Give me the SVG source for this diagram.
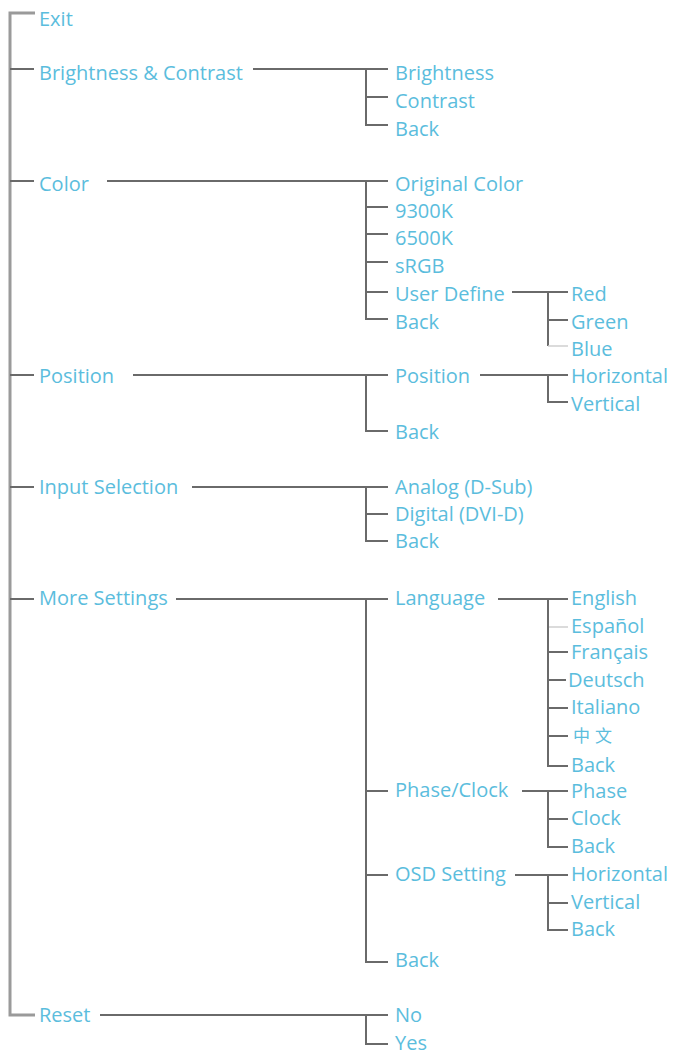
<svg xmlns="http://www.w3.org/2000/svg" width="675" height="1055" viewBox="0 0 675 1055">
<style>
text{font-family:"Open Sans","Liberation Sans",sans-serif;font-size:20px;fill:#5bbddd}
.m{stroke:#9a9a9a;stroke-width:3;fill:none}
.c{stroke:#6a6a6a;stroke-width:2;fill:none}
.f{stroke:#cfcfcf;stroke-width:1.5;fill:none}
</style>
<rect width="675" height="1055" fill="#fff"/>
<g id="connectors">
<path class="m" d="M35 13H10V1015H35"/>
<path class="c" d="M10 69H34M10 181H34M10 375H34M10 487H34M10 599H34"/>
<path class="c" d="M253 69H388M366 69V125H388M366 97H388"/>
<path class="c" d="M107 181H388M366 181V319H388M366 207H388M366 234H388M366 262H388M366 292H388"/>
<path class="c" d="M133 375H388M366 375V431H388"/>
<path class="c" d="M192 487H388M366 487V541H388M366 514H388"/>
<path class="c" d="M176 599H388M366 599V962H388M366 791H388M366 875H388"/>
<path class="c" d="M100 1015H388M366 1015V1044H388"/>
<path class="c" d="M512 292H568M548 292V346M548 320H568"/>
<path class="f" d="M548 346H568"/>
<path class="c" d="M480 375H568M548 375V402H568"/>
<path class="c" d="M498 599H568M548 599V766H568M548 652H568M548 680H566M548 708H568M548 736H568"/>
<path class="f" d="M549 627H568"/>
<path class="c" d="M522 791H568M548 791V847H568M548 819H568"/>
<path class="c" d="M515 875H568M548 875V930H568M548 903H568"/>
</g>
<g id="exit"><text x="39" y="26">Exit</text></g>
<g id="brightness-contrast"><text x="39" y="80">Brightness &amp; Contrast</text></g>
<g id="bc-brightness"><text x="395" y="80">Brightness</text></g>
<g id="bc-contrast"><text x="395" y="108">Contrast</text></g>
<g id="bc-back"><text x="395" y="136">Back</text></g>
<g id="color"><text x="39" y="191">Color</text></g>
<g id="color-original"><text x="395" y="191">Original Color</text></g>
<g id="color-9300k"><text x="395" y="218">9300K</text></g>
<g id="color-6500k"><text x="395" y="245">6500K</text></g>
<g id="color-srgb"><text x="395" y="273">sRGB</text></g>
<g id="color-user"><text x="395" y="301">User Define</text></g>
<g id="color-back"><text x="395" y="329">Back</text></g>
<g id="user-red"><text x="571" y="301">Red</text></g>
<g id="user-green"><text x="571" y="329">Green</text></g>
<g id="user-blue"><text x="571" y="356">Blue</text></g>
<g id="position"><text x="39" y="383">Position</text></g>
<g id="pos-position"><text x="395" y="383">Position</text></g>
<g id="pos-back"><text x="395" y="439">Back</text></g>
<g id="pos-horizontal"><text x="571" y="383">Horizontal</text></g>
<g id="pos-vertical"><text x="571" y="411">Vertical</text></g>
<g id="input"><text x="39" y="494">Input Selection</text></g>
<g id="input-analog"><text x="395" y="494">Analog (D-Sub)</text></g>
<g id="input-digital"><text x="395" y="521">Digital (DVI-D)</text></g>
<g id="input-back"><text x="395" y="548">Back</text></g>
<g id="more"><text x="39" y="605">More Settings</text></g>
<g id="more-language"><text x="395" y="605">Language</text></g>
<g id="lang-english"><text x="571" y="605">English</text></g>
<g id="lang-espanol"><text x="571" y="633">Español</text></g>
<g id="lang-francais"><text x="571" y="659">Français</text></g>
<g id="lang-deutsch"><text x="568" y="687">Deutsch</text></g>
<g id="lang-italiano"><text x="571" y="714">Italiano</text></g>
<g id="lang-chinese"><text x="573" y="742" style="font-family:'Noto Sans CJK SC',sans-serif;font-size:17px;letter-spacing:5px">中文</text></g>
<g id="lang-back"><text x="571" y="772">Back</text></g>
<g id="more-phase"><text x="395" y="797">Phase/Clock</text></g>
<g id="phase-phase"><text x="571" y="798">Phase</text></g>
<g id="phase-clock"><text x="571" y="825">Clock</text></g>
<g id="phase-back"><text x="571" y="853">Back</text></g>
<g id="more-osd"><text x="395" y="881">OSD Setting</text></g>
<g id="osd-horizontal"><text x="571" y="881">Horizontal</text></g>
<g id="osd-vertical"><text x="571" y="909">Vertical</text></g>
<g id="osd-back"><text x="571" y="936">Back</text></g>
<g id="more-back"><text x="395" y="967">Back</text></g>
<g id="reset"><text x="39" y="1022">Reset</text></g>
<g id="reset-no"><text x="395" y="1022">No</text></g>
<g id="reset-yes"><text x="395" y="1050">Yes</text></g>
</svg>
